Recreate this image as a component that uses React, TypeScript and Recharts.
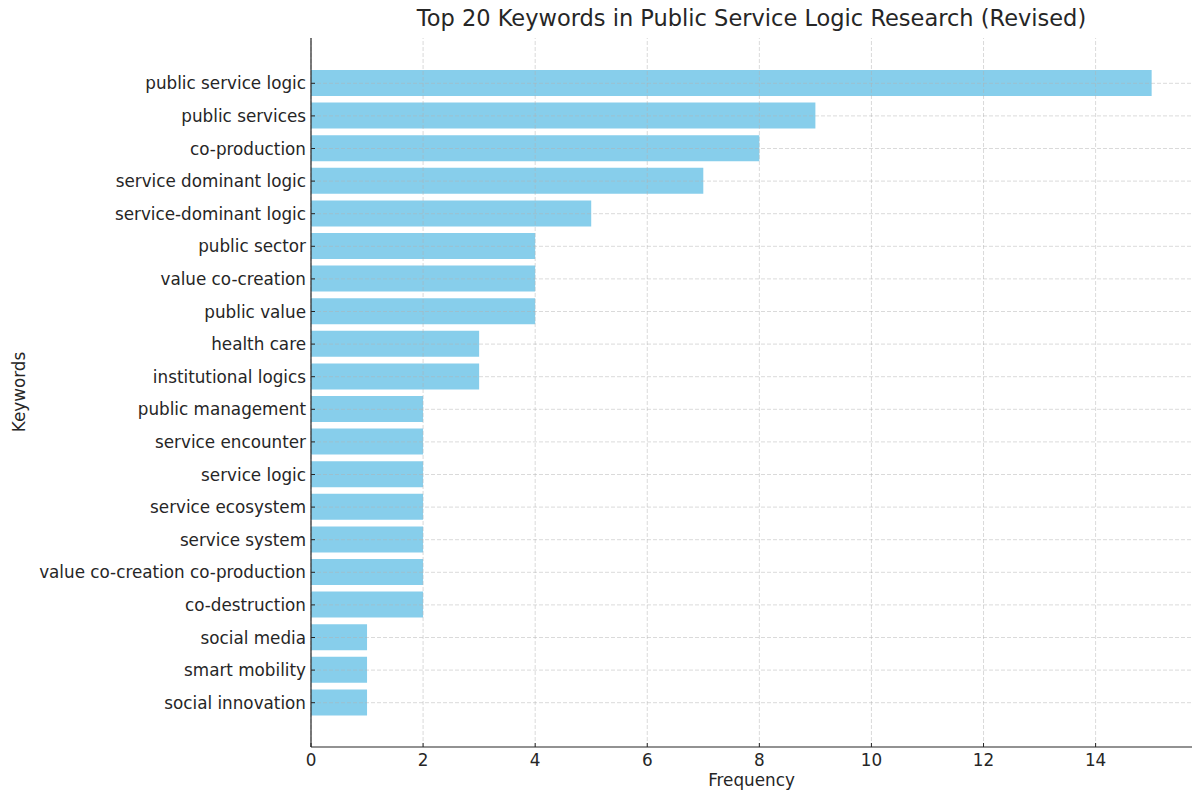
import React from "react"
import { BarChart, Bar, XAxis, YAxis, ReferenceLine } from "recharts"

const keywords = [
  "public service logic",
  "public services",
  "co-production",
  "service dominant logic",
  "service-dominant logic",
  "public sector",
  "value co-creation",
  "public value",
  "health care",
  "institutional logics",
  "public management",
  "service encounter",
  "service logic",
  "service ecosystem",
  "service system",
  "value co-creation co-production",
  "co-destruction",
  "social media",
  "smart mobility",
  "social innovation",
]

const frequencies = [15, 9, 8, 7, 5, 4, 4, 4, 3, 3, 2, 2, 2, 2, 2, 2, 2, 1, 1, 1]

const xTicks = [0, 2, 4, 6, 8, 10, 12, 14]

const data = keywords.map((k, i) => ({ keyword: k, freq: frequencies[i] }))

const FONT = "'DejaVu Sans', sans-serif"
const TEXT = "#262626"
const GRID = "#b0b0b0"

function YTick(props: any) {
  const { x, y, payload } = props
  return (
    <g>
      <line x1={x} y1={y} x2={x + 4} y2={y} stroke={TEXT} strokeWidth={1} />
      <text x={x - 5} y={y} textAnchor="end" dominantBaseline="central" fontSize={16.8} fill={TEXT} fontFamily={FONT}>
        {payload.value}
      </text>
    </g>
  )
}

function XTick(props: any) {
  const { x, y, payload } = props
  return (
    <g>
      <line x1={x} y1={y} x2={x} y2={y - 4} stroke={TEXT} strokeWidth={1} />
      <text x={x} y={y + 19} textAnchor="middle" fontSize={16.8} fill={TEXT} fontFamily={FONT}>
        {payload.value}
      </text>
    </g>
  )
}

export default function App() {
  return (
    <div style={{ position: "absolute", top: 0, left: 0, width: 1192, height: 794, background: "#fff", fontFamily: FONT }}>
      <BarChart
        width={1192}
        height={794}
        data={data}
        layout="vertical"
        margin={{ top: 38, right: 0, bottom: 0, left: 0 }}
        barSize={26}
      >
        <XAxis
          type="number"
          domain={[0, 15.72]}
          ticks={xTicks}
          height={47}
          axisLine={{ stroke: TEXT, strokeWidth: 1.2 }}
          tickLine={false}
          tickSize={0}
          tickMargin={0}
          tick={<XTick />}
          allowDataOverflow
        />
        <YAxis
          type="category"
          dataKey="keyword"
          width={311}
          padding={{ top: 29, bottom: 28 }}
          axisLine={{ stroke: TEXT, strokeWidth: 1.2 }}
          tickLine={false}
          tickSize={0}
          tickMargin={0}
          tick={<YTick />}
          interval={0}
        />
        <Bar dataKey="freq" fill="#87ceeb" isAnimationActive={false} />
        {xTicks.map((t) => (
          <ReferenceLine key={`x-${t}`} x={t} stroke={GRID} strokeOpacity={0.6} strokeDasharray="4 2" strokeWidth={0.8} />
        ))}
        {keywords.map((k) => (
          <ReferenceLine key={`y-${k}`} y={k} stroke={GRID} strokeOpacity={0.6} strokeDasharray="4 2" strokeWidth={0.8} />
        ))}
      </BarChart>
      <div
        style={{
          position: "absolute",
          top: 5,
          left: 311,
          width: 881,
          textAlign: "center",
          fontSize: 22.5,
          color: TEXT,
          whiteSpace: "nowrap",
        }}
      >
        Top 20 Keywords in Public Service Logic Research (Revised)
      </div>
      <div
        style={{
          position: "absolute",
          top: 770,
          left: 311,
          width: 881,
          textAlign: "center",
          fontSize: 16.8,
          lineHeight: "20px",
          color: TEXT,
        }}
      >
        Frequency
      </div>
      <div
        style={{
          position: "absolute",
          left: 19,
          top: 392,
          transform: "translate(-50%, -50%) rotate(-90deg)",
          fontSize: 16.8,
          color: TEXT,
          whiteSpace: "nowrap",
        }}
      >
        Keywords
      </div>
    </div>
  )
}
